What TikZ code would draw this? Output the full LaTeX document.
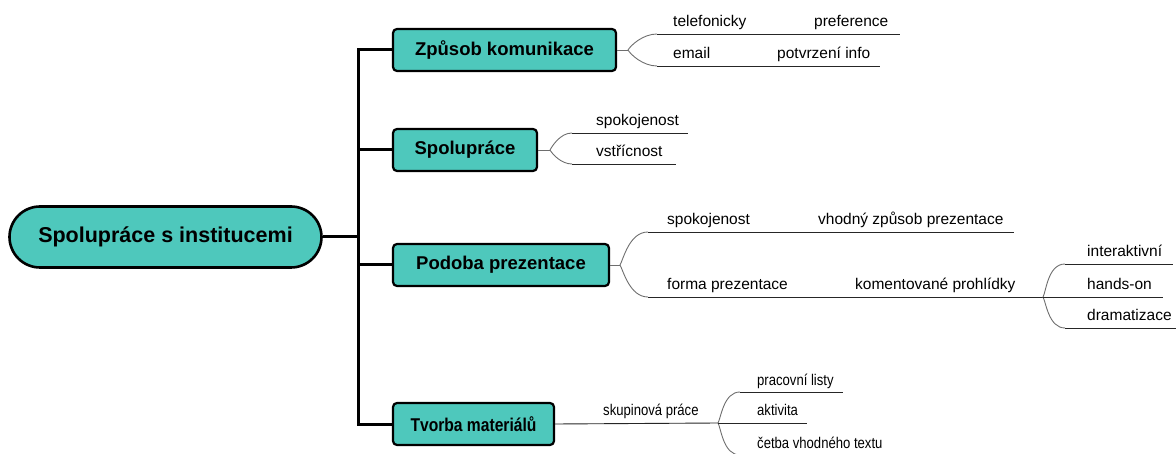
\documentclass[tikz,border=0pt]{standalone}
\usepackage{fontspec}
\usepackage{graphicx}
\setmainfont{Liberation Sans}
\usetikzlibrary{shapes.misc}
\definecolor{tealbox}{RGB}{78,200,188}
\definecolor{curvegray}{RGB}{110,110,110}
\newcommand{\nrw}[1]{\scalebox{0.845}[1]{#1}}
\tikzset{
 rootbox/.style={rounded rectangle, draw=black, line width=2.6pt, fill=tealbox, minimum width=312pt, minimum height=61pt, inner sep=0pt, font=\fontsize{21.5}{24}\selectfont\bfseries},
 mainbox/.style={rectangle, rounded corners=4pt, draw=black, line width=2.2pt, fill=tealbox, inner sep=0pt, minimum height=42pt, font=\fontsize{18.5}{21}\selectfont\bfseries},
 trunk/.style={line width=3pt, black, line join=miter},
 curve/.style={line width=0.9pt, curvegray},
 up/.style={out=60, in=180, out looseness=0.4, in looseness=1.1},
 down/.style={out=-60, in=180, out looseness=0.4, in looseness=1.1},
 rule/.style={line width=0.9pt, black!85},
 leaf/.style={anchor=base west, inner sep=0pt, font=\fontsize{15.5}{18}\selectfont},
}
\begin{document}
\begin{tikzpicture}[x=1pt,y=-1pt]
\useasboundingbox (0,0) rectangle (1176,454);
\clip (0,0) rectangle (1176,454);
% root and branches
\node[rootbox] (root) at (165.5,237) {Spolupráce s institucemi};
\node[mainbox, minimum width=223pt] (b1) at (504.5,50) {Způsob komunikace};
\node[mainbox, minimum width=144pt] (b2) at (465,150) {Spolupráce};
\node[mainbox, minimum width=216pt] (b3) at (501,265) {Podoba prezentace};
\node[mainbox, minimum width=161pt] (b4) at (473.5,424) {\nrw{Tvorba materiálů}};
% trunk
\coordinate (t1) at (358,50);
\coordinate (t2) at (358,150);
\coordinate (tr) at (358,237);
\coordinate (t3) at (358,265);
\coordinate (t4) at (358,424);
\draw[trunk] (b1.west) -- (t1) -- (t4) -- (b4.west);
\draw[trunk] (root.east) -- (tr);
\draw[trunk] (t2) -- (b2.west);
\draw[trunk] (t3) -- (b3.west);
% ---- branch 1
\coordinate (s1) at (628,50);
\coordinate (a1) at (657,34); \coordinate (a1e) at (900,34);
\coordinate (a2) at (657,66); \coordinate (a2e) at (880,66);
\draw[curve] (b1.east) -- (s1);
\draw[curve] (s1) to[up] (a1);
\draw[curve] (s1) to[down] (a2);
\draw[rule] (a1) -- (a1e);
\draw[rule] (a2) -- (a2e);
\node[leaf] (l11) at (673,27) {telefonicky};
\node[leaf] (l12) at (814,27) {preference};
\node[leaf] (l21) at (673,59) {email};
\node[leaf] (l22) at (777,59) {potvrzení info};
% ---- branch 2
\coordinate (s2) at (550,150);
\coordinate (c1) at (572,133); \coordinate (c1e) at (688,133);
\coordinate (c2) at (572,164); \coordinate (c2e) at (676,164);
\draw[curve] (b2.east) -- (s2);
\draw[curve] (s2) to[up] (c1);
\draw[curve] (s2) to[down] (c2);
\draw[rule] (c1) -- (c1e);
\draw[rule] (c2) -- (c2e);
\node[leaf] (l31) at (596,126) {spokojenost};
\node[leaf] (l32) at (596,157) {vstřícnost};
% ---- branch 3
\coordinate (s3) at (620,265);
\coordinate (d1) at (648,232); \coordinate (d1e) at (1014,232);
\coordinate (d2) at (648,297); \coordinate (d2e) at (1043,297);
\draw[curve] (b3.east) -- (s3);
\draw[curve] (s3) to[up] (d1);
\draw[curve] (s3) to[down] (d2);
\draw[rule] (d1) -- (d1e);
\draw[rule] (d2) -- (d2e);
\node[leaf] (l41) at (667,225) {spokojenost};
\node[leaf] (l42) at (818,225) {vhodný způsob prezentace};
\node[leaf] (l43) at (667,290) {forma prezentace};
\node[leaf] (l44) at (855,290) {komentované prohlídky};
\coordinate (e1) at (1065,264); \coordinate (e1e) at (1173,264);
\coordinate (e2e) at (1163,297);
\coordinate (e3) at (1065,328); \coordinate (e3e) at (1178,328);
\draw[curve] (d2e) to[up] (e1);
\draw[curve] (d2e) to[down] (e3);
\draw[rule] (e1) -- (e1e);
\draw[rule] (d2e) -- (e2e);
\draw[rule] (e3) -- (e3e);
\node[leaf] (l51) at (1087,257) {interaktivní};
\node[leaf] (l52) at (1087,290) {hands-on};
\node[leaf] (l53) at (1087,321) {dramatizace};
% ---- branch 4
\coordinate (s4) at (718,423);
\draw[rule] (b4.east) -- (s4);
\node[leaf] (l61) at (603,416) {\nrw{skupinová práce}};
\coordinate (f1) at (740,392); \coordinate (f1e) at (843,392);
\coordinate (f2e) at (807,423);
\coordinate (f3) at (740,455); \coordinate (f3e) at (900,455);
\draw[curve] (s4) to[up] (f1);
\draw[curve] (s4) to[down] (f3);
\draw[rule] (f1) -- (f1e);
\draw[rule] (s4) -- (f2e);
\draw[rule] (f3) -- (f3e);
\node[leaf] (l71) at (757,385) {\nrw{pracovní listy}};
\node[leaf] (l72) at (757,416) {\nrw{aktivita}};
\node[leaf] (l73) at (757,448) {\nrw{četba vhodného textu}};
\end{tikzpicture}
\end{document}
